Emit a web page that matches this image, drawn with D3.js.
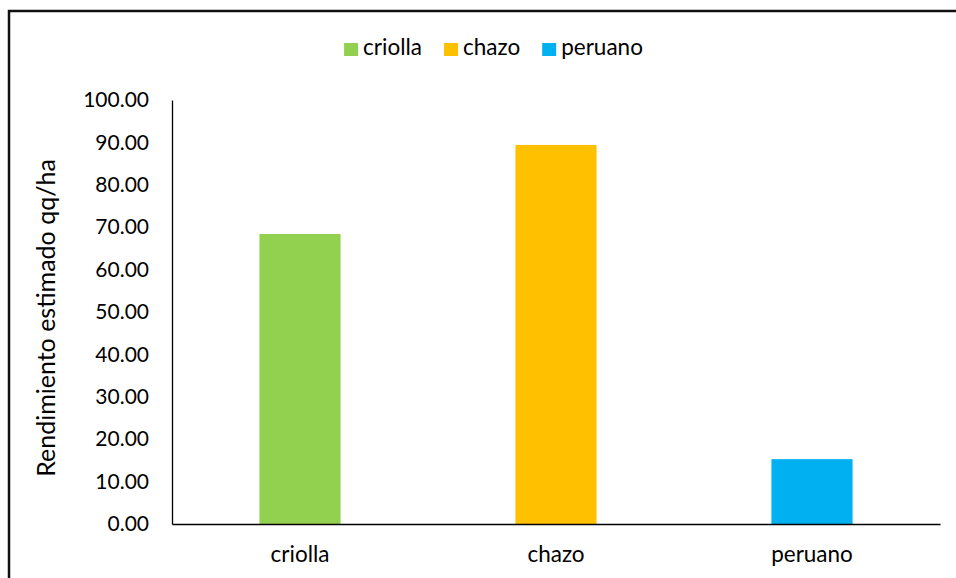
<!DOCTYPE html>
<html>
<head>
<meta charset="utf-8">
<script src="https://cdn.jsdelivr.net/npm/d3@7"></script>
<style>
  html, body { margin: 0; padding: 0; background: #fff; }
  svg { display: block; font-family: Lato, "Open Sans", sans-serif; }
</style>
</head>
<body>
<svg id="chart" width="956" height="578"></svg>
<script>
// Estimated yield per potato variety (qq/ha)
const categories = ["criolla", "chazo", "peruano"];
const values = [68.4, 89.4, 15.3];
const colors = ["#92d050", "#ffc000", "#00b0f0"];
const yTicks = [0, 10, 20, 30, 40, 50, 60, 70, 80, 90, 100];
const yTitle = "Rendimiento estimado qq/ha";

const svg = d3.select("#chart");
const margin = { left: 172, right: 16, top: 100, bottom: 54 };
const W = 956, H = 578;

// Outer chart frame
svg.append("rect")
  .attr("x", 9).attr("y", 11)
  .attr("width", 960).attr("height", 600)
  .attr("fill", "none").attr("stroke", "#111").attr("stroke-width", 2.5);

const x = d3.scaleBand()
  .domain(categories)
  .range([margin.left, W - margin.right])
  .padding(0);

const y = d3.scaleLinear()
  .domain([0, 100])
  .range([H - margin.bottom, margin.top]);

const barW = x.bandwidth() * 0.317;

// Bars
svg.append("g").selectAll("rect")
  .data(categories)
  .join("rect")
  .attr("x", (d) => x(d) + x.bandwidth() / 2 - barW / 2)
  .attr("y", (d, i) => y(values[i]))
  .attr("width", barW)
  .attr("height", (d, i) => y(0) - y(values[i]))
  .attr("fill", (d, i) => colors[i]);

// Y axis
const yAxis = svg.append("g")
  .attr("transform", `translate(${margin.left},0)`)
  .call(d3.axisLeft(y).tickValues(yTicks).tickFormat(d3.format(".2f")).tickSize(0).tickPadding(23));
yAxis.select(".domain").attr("stroke", "#000").attr("stroke-width", 1.3);
yAxis.selectAll("text")
  .attr("font-size", 21).attr("fill", "#000")
  .attr("font-family", "Lato, sans-serif");

// X axis
const xAxis = svg.append("g")
  .attr("transform", `translate(0,${y(0)})`)
  .call(d3.axisBottom(x).tickSize(0).tickPadding(0));
xAxis.select(".domain").attr("stroke", "#000").attr("stroke-width", 1.6);
xAxis.selectAll("text")
  .attr("dy", null)
  .attr("y", 38)
  .attr("font-size", 22.5).attr("fill", "#000")
  .attr("font-family", "Lato, sans-serif");

// Y axis title
svg.append("text")
  .attr("transform", `translate(55,${(y(0) + y(100)) / 2 + 6}) rotate(-90)`)
  .attr("text-anchor", "middle")
  .attr("font-size", 25)
  .attr("fill", "#000")
  .text(yTitle);

// Legend
const legend = svg.append("g");
const items = legend.selectAll("g").data(categories).join("g");
items.append("rect")
  .attr("width", 14).attr("height", 13)
  .attr("y", 43)
  .attr("fill", (d, i) => colors[i]);
items.append("text")
  .attr("x", 19).attr("y", 55)
  .attr("font-size", 22.5).attr("fill", "#000")
  .text((d) => d);
let cx = 0;
const gap = 22;
items.each(function () {
  const g = d3.select(this);
  g.attr("transform", `translate(${cx},0)`);
  cx += this.getBBox().width + gap;
});
const totalW = cx - gap;
legend.attr("transform", `translate(${(345 + 642) / 2 - totalW / 2},0)`);
</script>
</body>
</html>
